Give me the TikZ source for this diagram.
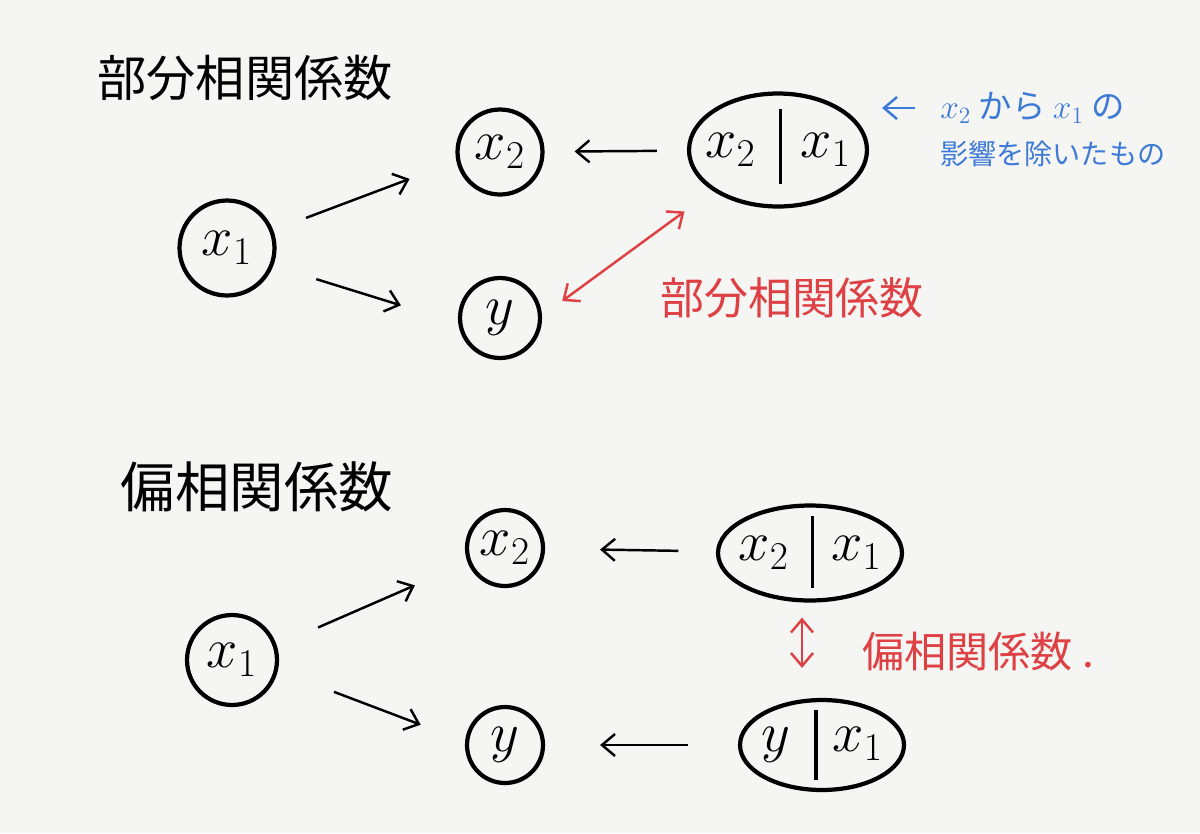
\documentclass[tikz,border=0pt]{standalone}
\usepackage{fix-cm}
\usepackage{fontspec}
\newfontfamily\jpfont{Noto Sans CJK JP}
\usepackage{xcolor}
\usetikzlibrary{arrows.meta, positioning, shapes.geometric}

\definecolor{paper}{RGB}{245,245,244}
\definecolor{penred}{RGB}{222,64,68}
\definecolor{penblue}{RGB}{60,122,214}

\begin{document}
\begin{tikzpicture}[
    x=0.02cm, y=-0.02cm,
    var/.style={
      circle,
      draw=black,
      line width=2.4pt,
      inner sep=0pt,
      font=\fontsize{32}{34}\selectfont
    },
    cond/.style={
      ellipse,
      draw=black,
      line width=2.4pt,
      inner sep=0pt,
      font=\fontsize{32}{34}\selectfont
    },
    heading/.style={font=\jpfont\fontsize{28}{32}\selectfont},
    rednote/.style={font=\jpfont\fontsize{25}{28}\selectfont, text=penred},
    memo/.style={font=\jpfont\fontsize{16}{20}\selectfont, text=penblue, inner sep=0pt},
    line/.style={-{Straight Barb[length=2.6mm, width=4.4mm]}, line width=1.4pt},
    both/.style={{Straight Barb[length=2.6mm, width=4.4mm]}-{Straight Barb[length=2.6mm, width=4.4mm]}, line width=1.4pt, draw=penred}
  ]
    \fill[paper] (0,0) rectangle (1200,833);
    \useasboundingbox (0,0) rectangle (1200,833);

    % upper half
    \node[heading] (part) at (245,78) {部分相関係数};
    \node[var, minimum size=1.9cm] (x1a) at (227,248) {$x_1$};
    \node[var, minimum size=1.7cm] (x2a) at (500,152) {$x_2$};
    \node[var, minimum size=1.6cm] (ya) at (500,318) {$y$};
    \node[cond, minimum width=3.56cm, minimum height=2.26cm] (pa) at (778,150) {\makebox[1.5cm]{$x_2$\hspace{0.9cm}$x_1$}};
    \draw[line width=2pt] ([xshift=0.05cm, yshift=-0.35cm]pa.north) -- ([xshift=0.05cm, yshift=0.5cm]pa.south);

    \node[memo, anchor=west] (memo1) at (940,108) {\fontsize{19}{22}\selectfont$x_2$ から \fontsize{19}{22}\selectfont$x_1$ の};
    \node[memo, below right=0.32cm and 0cm of memo1.south west] (memo2) {影響を除いたもの};
    \node[rednote] (partlab) at (792,298) {部分相関係数};

    \draw[line, shorten <=0.7cm, shorten >=1cm] (x1a.21) -- (x2a.192);
    \draw[line, shorten <=0.9cm, shorten >=1.2cm] (x1a.339) -- (ya.187);
    \draw[line, shorten <=0.6cm, shorten >=0.6cm] (pa) -- (x2a);
    \draw[both, shorten <=0.5cm, shorten >=0.7cm] (ya.3) -- (pa.212);
    \draw[line, draw=penblue, shorten <=0.5cm, shorten >=0.26cm] (memo1.west) -- (memo1.west -| pa.east);

    % lower half
    \node[heading, font=\jpfont\fontsize{31}{34}\selectfont] (partial) at (257,487) {偏相関係数};
    \node[var, minimum size=1.8cm] (x1b) at (232,660) {$x_1$};
    \node[var, minimum size=1.52cm] (x2b) at (505,548) {$x_2$};
    \node[var, minimum size=1.52cm] (yb) at (505,745) {$y$};
    \node[cond, minimum width=3.68cm, minimum height=1.9cm] (pb) at (810,553) {\makebox[1.5cm]{$x_2$\hspace{0.85cm}$x_1$}};
    \node[cond, minimum width=3.28cm, minimum height=1.8cm] (qb) at (822,745) {\makebox[1.3cm]{$y$\hspace{0.85cm}$x_1$}};
    \draw[line width=2pt] ([xshift=0.05cm, yshift=-0.25cm]pb.north) -- ([xshift=0.05cm, yshift=0.3cm]pb.south);
    \draw[line width=2pt] ([xshift=-0.12cm, yshift=-0.25cm]qb.north) -- ([xshift=-0.12cm, yshift=0.25cm]qb.south);
    \node[rednote, font=\jpfont\fontsize{24}{28}\selectfont] (partiallab) at (978,652) {偏相関係数\ .};

    \draw[line, shorten <=0.9cm, shorten >=1.15cm] (x1b.18) -- (x2b.201);
    \draw[line, shorten <=1.2cm, shorten >=0.95cm] (x1b.347) -- (yb.175);
    \draw[line, shorten <=0.75cm, shorten >=1.1cm] (pb) -- (x2b);
    \draw[line, shorten <=1cm, shorten >=1.1cm] (qb) -- (yb);
    \draw[both, shorten <=0.3cm, shorten >=0.6cm] ([xshift=-0.16cm]pb.south) -- ([xshift=-0.16cm]pb.south |- qb.north);
\end{tikzpicture}
\end{document}
